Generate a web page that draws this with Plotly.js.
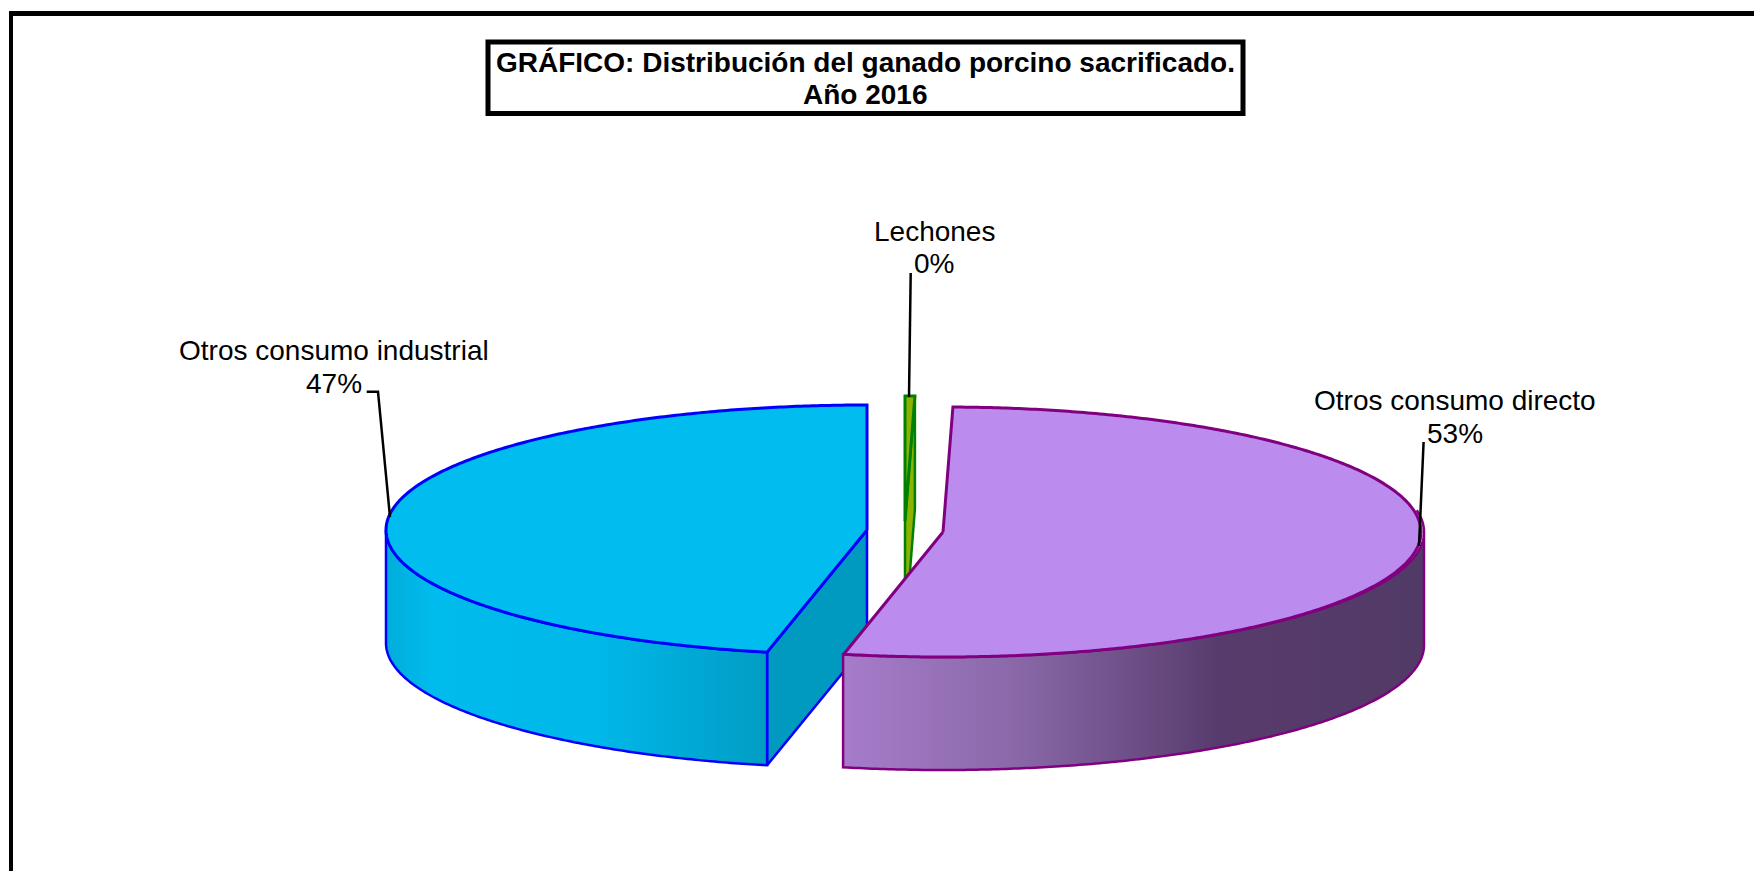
<!DOCTYPE html>
<html><head><meta charset="utf-8">
<script src="https://cdn.plot.ly/plotly-3.0.1.min.js"></script>
<style>html,body{margin:0;padding:0;background:#fff}#c{width:1754px;height:871px}</style>
</head><body><div id="c"></div>
<script>
const categories = ['Lechones', 'Otros consumo directo', 'Otros consumo industrial'];
const values = [0.33, 53, 46.67];
const titleLines = ['GRÁFICO: Distribución del ganado porcino sacrificado.', 'Año 2016'];

// Projection of each exploded slice of the 3-D pie
const WALL_RX = 481;
const geom = [
  {cx: 905, cy: 521, rx: 478, ry: 125, depth: 113, line: '#008000', top: '#8DB300', cut: '#8DB300'},
  {cx: 943, cy: 532, rx: 478, ry: 125, depth: 113, line: '#800080', top: '#BB8BEE', wallFrom: 80, wallSide: 90,
   wall: [[0,'#A67CCB'],[0.3,'#8A68A8'],[0.65,'#573B6C'],[1,'#523A66']]},
  {cx: 867, cy: 530, rx: 481, ry: 125, depth: 113, line: '#0000FF', top: '#00BCEF', cut: '#0099BF', wallFrom: 270, wallSide: 270,
   wall: [[0,'#00ADDA'],[0.12,'#00BBED'],[0.55,'#00B8EA'],[1,'#009DC4']]}
];
const labelPos = [
  {x: 934, y1: 231, y2: 263},
  {x: 1455, y1: 400, y2: 433},
  {x: 333.5, y1: 350, y2: 383}
];
const leaders = [
  [[910.7, 273], [909, 397]],
  [[1423.6, 442], [1419, 546]],
  [[366.7, 391.7], [378, 391.7], [390, 517]]
];

const total = values.reduce((a, b) => a + b, 0);
let acc = 0;
const spans = values.map(v => { const s = acc / total * 360; acc += v; return [s, acc / total * 360]; });

function pt(g, deg, dz, rx) {
  const t = deg * Math.PI / 180;
  return [g.cx + (rx || g.rx) * Math.sin(t), g.cy - g.ry * Math.cos(t) + (dz || 0)];
}
function arc(g, a0, a1, dz, rx) {
  const out = [], n = Math.max(2, Math.ceil(Math.abs(a1 - a0) * 2));
  for (let i = 0; i <= n; i++) out.push(pt(g, a0 + (a1 - a0) * i / n, dz, rx));
  return out;
}
function poly(points, color, lineColor, w, grad) {
  const tr = {type: 'scatter', mode: 'lines', x: points.map(p => p[0]), y: points.map(p => p[1]),
    fill: 'toself', fillcolor: color, line: {color: lineColor, width: w, simplify: false}, showlegend: false,
    hoverinfo: 'skip'};
  if (grad) tr.fillgradient = {type: 'horizontal', colorscale: grad};
  return tr;
}
const traces = [];
function centre(g, dz) { return [g.cx, g.cy + (dz || 0)]; }

function drawSlice(i, wallEnd) {
  const g = geom[i], [a0, a1] = spans[i];
  if (g.cut) {
    const cutAng = i === 0 ? a1 : a0;
    const r = pt(g, cutAng), rb = pt(g, cutAng, g.depth);
    traces.push(poly([centre(g), r, rb, centre(g, g.depth), centre(g)], g.cut, g.line, 2.5));
  }
  if (g.wall) {
    const pts = arc(g, g.wallFrom, wallEnd, 0, WALL_RX)
      .concat(arc(g, wallEnd, g.wallSide, g.depth, WALL_RX), arc(g, g.wallSide, g.wallFrom, 0, WALL_RX));
    traces.push(poly(pts, g.top, g.line, 2.5, g.wall));
  }
  const rim = arc(g, a0, a1);
  traces.push(poly([centre(g)].concat(rim, [centre(g)]), g.top, g.line, 3));
}
drawSlice(2, spans[2][0]);
drawSlice(0);
drawSlice(1, spans[1][1]);

const FONT = 'Liberation Sans, Arial, sans-serif';
const annotations = [];
categories.forEach((c, i) => {
  const f = {family: FONT, size: 28, color: '#000'};
  annotations.push({x: labelPos[i].x, y: labelPos[i].y1, text: c, showarrow: false, xanchor: 'center', yanchor: 'middle', font: f});
  annotations.push({x: labelPos[i].x, y: labelPos[i].y2, text: Math.round(values[i] / total * 100) + '%', showarrow: false, xanchor: 'center', yanchor: 'middle', font: f});
});
annotations.push({x: 865.5, y: 94, text: titleLines[1], showarrow: false, xanchor: 'center', yanchor: 'middle',
  font: {family: FONT, size: 28, color: '#000', weight: 'bold'}});

const shapes = [
  {type: 'line', x0: 11, y0: 13.5, x1: 1754, y1: 13.5, line: {color: '#000', width: 5}},
  {type: 'line', x0: 11, y0: 11, x1: 11, y1: 871, line: {color: '#000', width: 4}},
  {type: 'rect', x0: 488, y0: 42, x1: 1243, y1: 113.5, fillcolor: '#fff', line: {color: '#000', width: 5}, layer: 'above'}
];
leaders.forEach(l => {
  const path = 'M' + l.map(p => p[0] + ',' + p[1]).join('L');
  shapes.push({type: 'path', path, line: {color: '#000', width: 2.5}, layer: 'above'});
});

Plotly.newPlot('c', traces, {
  width: 1754, height: 871, margin: {l: 0, r: 0, t: 0, b: 0}, showlegend: false,
  paper_bgcolor: '#fff', plot_bgcolor: '#fff',
  title: {text: titleLines[0], x: 865.5 / 1754, xanchor: 'center', y: 1 - 62 / 871, yanchor: 'middle',
    font: {family: FONT, size: 28, color: '#000', weight: 'bold'}},
  xaxis: {range: [0, 1754], visible: false, fixedrange: true},
  yaxis: {range: [871, 0], visible: false, fixedrange: true},
  annotations, shapes
}, {displayModeBar: false});
</script></body></html>
